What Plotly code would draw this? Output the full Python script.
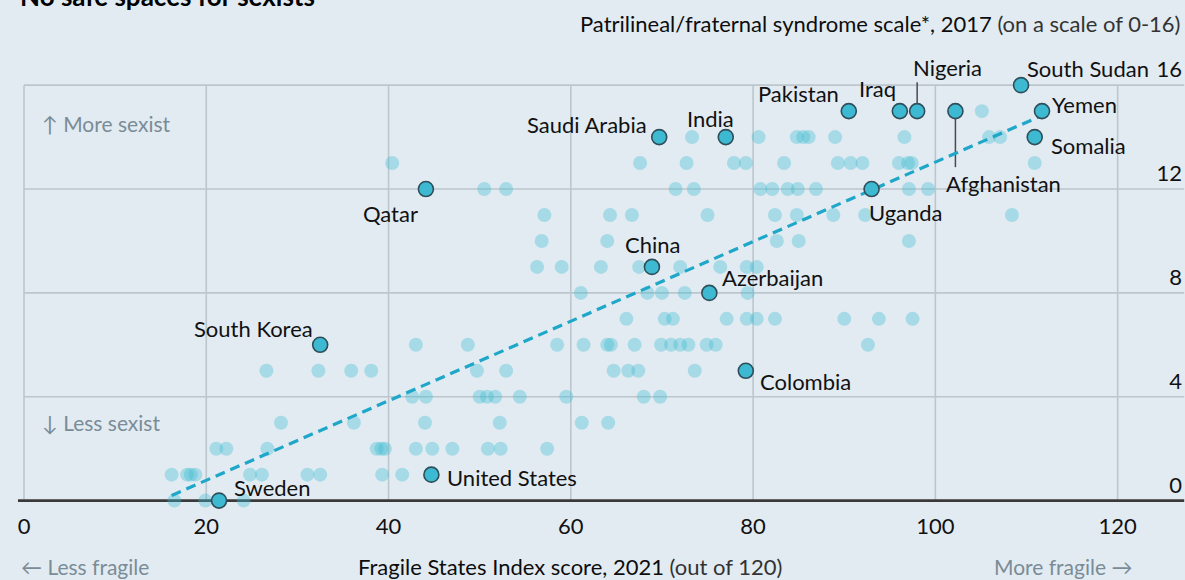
import plotly.graph_objects as go

# ---------------- data ----------------
countries = ["Sweden", "United States", "South Korea", "Qatar", "Saudi Arabia", "India",
             "China", "Azerbaijan", "Colombia", "Pakistan", "Iraq", "Nigeria",
             "Afghanistan", "South Sudan", "Yemen", "Somalia", "Uganda"]
country_fsi = [21.4, 44.7, 32.5, 44.1, 69.7, 77.0,
               68.9, 75.2, 79.2, 90.5, 96.1, 98.0,
               102.2, 109.4, 111.7, 110.9, 93.0]
country_scale = [0, 1, 6, 12, 14, 14,
                 9, 8, 5, 15, 15, 15,
                 15, 16, 15, 14, 12]

light_fsi = [
    105.1,
    73.3, 80.6, 84.8, 85.5, 86.1, 89.0, 96.6, 105.9, 107.1,
    40.4, 67.6, 72.7, 77.9, 79.2, 83.4, 89.3, 90.7, 92.0, 96.0, 97.0, 97.4, 110.9,
    50.5, 52.9, 71.5, 73.5, 80.8, 82.1, 83.8, 84.9, 86.9, 97.1, 99.2,
    57.1, 64.3, 66.7, 75.0, 82.4, 84.8, 88.8, 92.3, 108.4,
    56.8, 64.0, 82.6, 85.0, 97.1,
    56.3, 59.0, 63.3, 67.5, 72.0, 76.4, 79.3, 80.4,
    61.1, 68.4, 70.0, 72.5, 79.4,
    66.1, 70.3, 71.2, 77.1, 79.3, 80.4, 82.4, 90.0, 93.8, 97.5,
    43.0, 48.7, 58.5, 61.4, 64.0, 64.4, 67.0, 69.9, 71.0, 72.0, 72.9, 74.9, 75.9, 92.6,
    26.6, 32.3, 35.9, 38.1, 49.7, 52.9, 64.7, 66.3, 67.4, 73.6,
    42.6, 44.1, 50.0, 50.8, 51.7, 54.4, 59.5, 68.0, 69.8,
    28.2, 36.2, 44.0, 52.2, 61.2, 64.1,
    21.1, 22.2, 26.7, 38.7, 39.2, 39.6, 43.0, 44.8, 47.0, 50.9, 52.3, 57.4,
    16.2, 17.9, 18.3, 18.8, 24.8, 26.1, 31.1, 32.5, 39.3, 41.5,
    16.5, 19.9, 24.1,
]
light_scale = [
    15,
    14, 14, 14, 14, 14, 14, 14, 14, 14,
    13, 13, 13, 13, 13, 13, 13, 13, 13, 13, 13, 13, 13,
    12, 12, 12, 12, 12, 12, 12, 12, 12, 12, 12,
    11, 11, 11, 11, 11, 11, 11, 11, 11,
    10, 10, 10, 10, 10,
    9, 9, 9, 9, 9, 9, 9, 9,
    8, 8, 8, 8, 8,
    7, 7, 7, 7, 7, 7, 7, 7, 7, 7,
    6, 6, 6, 6, 6, 6, 6, 6, 6, 6, 6, 6, 6, 6,
    5, 5, 5, 5, 5, 5, 5, 5, 5, 5,
    4, 4, 4, 4, 4, 4, 4, 4, 4,
    3, 3, 3, 3, 3, 3,
    2, 2, 2, 2, 2, 2, 2, 2, 2, 2, 2, 2,
    1, 1, 1, 1, 1, 1, 1, 1, 1, 1,
    0, 0, 0,
]

trend_fsi = [16.2, 111.5]
trend_scale = [0.2, 14.8]

x_ticks = [0, 20, 40, 60, 80, 100, 120]
y_ticks = [0, 4, 8, 12, 16]

# ---------------- styles ----------------
FONT = "Lato"
BG = "#e2ebf1"
GRID = "#bcc6cd"
GRAYTXT = "#7a8c97"

# label placement: (xanchor, xshift px, yshift px)
label_pos = {
    "Sweden": ("left", 13, 13),
    "United States": ("left", 14, -3),
    "South Korea": ("right", -5, 16),
    "Qatar": ("right", -6, -24),
    "Saudi Arabia": ("right", -10, 13),
    "India": ("center", -15, 19),
    "China": ("center", 1, 22),
    "Azerbaijan": ("left", 11, 15),
    "Colombia": ("left", 12, -11),
    "Pakistan": ("right", -8, 18),
    "Iraq": ("right", -2, 23),
    "Nigeria": ("left", -6, 44),
    "Afghanistan": ("left", -11, -72),
    "South Sudan": ("left", 4, 17),
    "Yemen": ("left", 8, 7),
    "Somalia": ("left", 14, -8),
    "Uganda": ("left", -5, -23),
}
leaders = {"Nigeria": (4, 29), "Afghanistan": (-4, -56)}

fig = go.Figure()

fig.add_trace(go.Scatter(
    x=light_fsi, y=light_scale, mode="markers",
    marker=dict(size=14, color="rgba(62,188,210,0.36)", line=dict(width=0)),
    hoverinfo="skip", cliponaxis=False, showlegend=False))

fig.add_trace(go.Scatter(
    x=trend_fsi, y=trend_scale, mode="lines",
    line=dict(color="#1fa7c9", width=3.2, dash="10px,6px"),
    hoverinfo="skip", showlegend=False))

fig.add_trace(go.Scatter(
    x=country_fsi, y=country_scale, mode="markers", text=countries,
    marker=dict(size=15, color="#3dbad1", line=dict(width=1.6, color="#2f4e5b")),
    hoverinfo="text", cliponaxis=False, showlegend=False))

shapes = []
for v in x_ticks:
    shapes.append(dict(type="line", xref="x", yref="y", x0=v, x1=v, y0=0, y1=16,
                       line=dict(color=GRID, width=1.6), layer="below"))
for v in y_ticks[1:]:
    shapes.append(dict(type="line", xref="x", yref="y", x0=0, x1=127.3, y0=v, y1=v,
                       line=dict(color=GRID, width=1.6), layer="below"))
shapes.append(dict(type="line", xref="x", yref="y", x0=-0.66, x1=127.3, y0=0, y1=0,
                   line=dict(color="#3a3a3a", width=2.6), layer="below"))
for name, (a, b) in leaders.items():
    i = countries.index(name)
    shapes.append(dict(type="line", xref="x", yref="y", ysizemode="pixel",
                       yanchor=country_scale[i], x0=country_fsi[i], x1=country_fsi[i],
                       y0=a, y1=b, line=dict(color="#4a4a4a", width=1.5), layer="below"))

annotations = []
for name, xv, yv in zip(countries, country_fsi, country_scale):
    xa, dx, dy = label_pos[name]
    annotations.append(dict(x=xv, y=yv, xref="x", yref="y", text=name, showarrow=False,
                            xanchor=xa, yanchor="middle", xshift=dx, yshift=dy,
                            font=dict(family=FONT, size=22, color="#111111")))

annotations += [
    dict(x=0, y=1, xref="paper", yref="paper", xanchor="left", yanchor="bottom",
         xshift=18, yshift=40, showarrow=False,
         text="<b>No safe spaces for sexists</b>",
         font=dict(family=FONT, size=26, color="#000000")),
    dict(x=1, y=1, xref="paper", yref="paper", xanchor="right", yanchor="middle",
         xshift=-3, yshift=31, showarrow=False,
         text="Patrilineal/fraternal syndrome scale*, 2017 "
              "<span style='color:#333333'>(on a scale of 0-16)</span>",
         font=dict(family=FONT, size=22, color="#0d0d0d")),
    dict(x=1.76, y=14.54, xref="x", yref="y", xanchor="left", yanchor="middle",
         showarrow=False, text="↑ More sexist",
         font=dict(family=FONT, size=21, color=GRAYTXT)),
    dict(x=1.76, y=3.0, xref="x", yref="y", xanchor="left", yanchor="middle",
         showarrow=False, text="↓ Less sexist",
         font=dict(family=FONT, size=21, color=GRAYTXT)),
    dict(x=-0.6, y=0, xref="x", yref="paper", xanchor="left", yanchor="middle",
         yshift=-55, showarrow=False, text="← Less fragile",
         font=dict(family=FONT, size=21, color=GRAYTXT)),
    dict(x=121.8, y=0, xref="x", yref="paper", xanchor="right", yanchor="middle",
         yshift=-55, showarrow=False, text="More fragile →",
         font=dict(family=FONT, size=21, color=GRAYTXT)),
    dict(x=59.9, y=0, xref="x", yref="paper", xanchor="center", yanchor="middle",
         yshift=-55, showarrow=False,
         text="Fragile States Index score, 2021 <span style='color:#333333'>(out of 120)</span>",
         font=dict(family=FONT, size=22, color="#0d0d0d")),
]

fig.update_layout(
    width=1185, height=580,
    margin=dict(l=0, r=0, t=54, b=69, pad=0),
    paper_bgcolor=BG, plot_bgcolor=BG,
    font=dict(family=FONT, size=21, color="#111111"),
    shapes=shapes, annotations=annotations,
    xaxis=dict(range=[-2.633, 127.39], tickvals=x_ticks, showgrid=False, zeroline=False,
               showline=False, ticks="", tickfont=dict(family=FONT, size=22, color="#111111"),
               fixedrange=True),
    yaxis=dict(range=[-0.4, 17.2], tickvals=y_ticks, side="right",
               ticklabelposition="inside top", showgrid=False, zeroline=False,
               showline=False, ticks="", tickfont=dict(family=FONT, size=22, color="#111111"),
               fixedrange=True),
    hovermode="closest",
)

fig.write_html("out.html", config={"displayModeBar": False},
               post_script="document.body.style.margin='0px';document.body.style.overflow='hidden';")
